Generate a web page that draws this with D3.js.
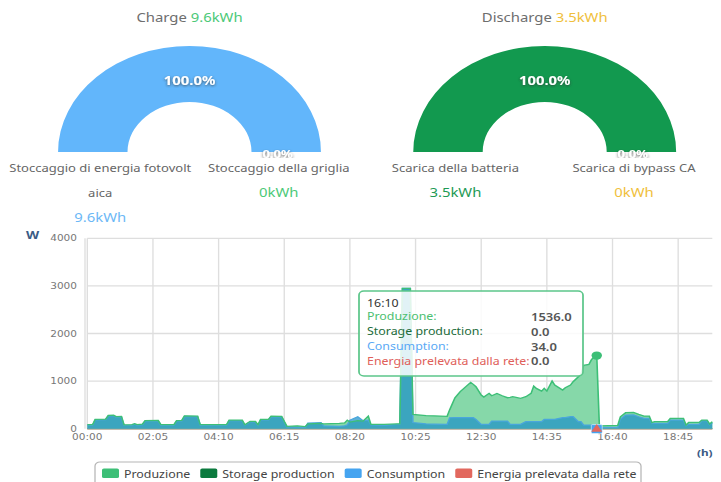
<!DOCTYPE html>
<html>
<head>
<meta charset="utf-8">
<title>Charge / Discharge</title>
<script src="https://cdn.jsdelivr.net/npm/d3@7"></script>
<style>
  body { margin: 0; background: #fff; }
  svg { display: block; }
  text { font-family: "Noto Sans", sans-serif; }
  .axis text { font-family: "DejaVu Sans", sans-serif; }
</style>
</head>
<body>
<div id="chart"></div>
<script>
// ---- donut data ----
var chargeTotal = "9.6kWh";
var chargeNames = ["Stoccaggio di energia fotovoltaica", "Stoccaggio della griglia"];
var chargeValues = [9.6, 0];
var chargeLabels = ["9.6kWh", "0kWh"];

var dischargeTotal = "3.5kWh";
var dischargeNames = ["Scarica della batteria", "Scarica di bypass CA"];
var dischargeValues = [3.5, 0];
var dischargeLabels = ["3.5kWh", "0kWh"];

// ---- line chart data (W) ----
var times = ["00:00","00:10","00:15","00:35","00:40","00:50","00:55","01:05","01:10","01:25",
  "01:30","01:35","01:45","01:50","02:15","02:20","02:45","02:50","03:00","03:05",
  "03:30","03:35","04:25","04:30","04:55","05:00","05:10","05:20","05:25","05:30",
  "05:45","05:50","06:10","06:20","06:40","06:55","07:00","07:25","07:30","08:00",
  "08:10","08:15","08:20","08:35","08:45","08:55","09:00","09:25","09:50","09:55",
  "10:00","10:15","10:20","10:45","11:00","11:25","11:30","11:40","11:50","12:10",
  "12:15","12:20","12:30","12:35","12:45","12:50","13:00","13:10","13:20","13:25",
  "13:30","13:45","13:55","14:05","14:10","14:15","14:25","14:30","14:35","14:45",
  "14:50","15:05","15:10","15:20","15:25","15:35","15:40","15:45","15:55","16:00",
  "16:05","16:10","16:15","16:50","16:55","17:05","17:20","17:30","17:40","17:50",
  "17:55","18:00","18:25","18:30","18:55","19:00","19:05","19:25","19:30","19:40",
  "19:45","19:50"];
var produzione = [85,85,195,200,280,285,255,260,80,85,
  105,85,95,170,175,85,85,170,175,270,
  265,85,85,180,180,85,155,155,85,195,
  195,265,260,50,60,45,100,110,100,110,
  120,180,140,170,160,265,90,90,100,100,
  2950,2950,300,275,270,260,400,650,780,973,
  931,882,707,665,742,693,742,693,651,660,
  672,637,672,742,896,847,791,847,791,1001,
  917,812,861,917,987,1092,1140,1330,1350,1450,
  1510,1536,60,70,250,336,340,300,266,266,
  126,147,147,217,217,77,133,133,182,182,
  98,147];
var consumption = [75,75,185,190,270,272,245,250,70,75,
  95,75,85,160,165,75,75,160,165,260,
  255,75,75,170,170,75,145,145,75,185,
  185,255,250,40,35,30,120,126,60,50,
  60,80,180,250,170,180,80,70,90,90,
  2950,2950,130,100,95,90,230,231,231,231,
  231,196,91,91,91,161,161,161,161,91,
  91,91,147,147,147,147,147,196,196,196,
  196,231,231,252,252,147,147,77,77,77,
  60,34,28,28,200,287,290,250,217,217,
  110,112,112,182,182,60,91,91,168,168,
  80,120];
var storageTimes = ["00:00", "19:50"];
var storage = [0, 0];
var gridTimes = ["00:00", "19:50"];
var grid = [0, 0];

var xTickLabels = ["00:00","02:05","04:10","06:15","08:20","10:25","12:30","14:35","16:40","18:45"];
var yTicks = [0, 1000, 2000, 3000, 4000];
var tooltipTime = "16:10";

var seriesNames = ["Produzione", "Storage production", "Consumption", "Energia prelevata dalla rete"];
var seriesColors = ["#3dbf77", "#0b7a3e", "#45a4f0", "#e2685e"];

// the picture is stretched sideways, so draw in a narrower space and stretch it back
var SX = 1.24;
var W = 721, H = 482, VW = W / SX;
function X(px) { return px / SX; }

var svg = d3.select("#chart").append("svg")
  .attr("width", W).attr("height", H)
  .attr("viewBox", "0 0 " + VW + " " + H)
  .attr("preserveAspectRatio", "none");

var defs = svg.append("defs");
defs.append("filter").attr("id", "shadow")
  .attr("x", "-20%").attr("y", "-40%").attr("width", "140%").attr("height", "180%")
  .append("feDropShadow")
  .attr("dx", 0).attr("dy", 1).attr("stdDeviation", 1.2)
  .attr("flood-color", "#333").attr("flood-opacity", 0.7);

function toMin(s) { var p = s.split(":"); return +p[0] * 60 + +p[1]; }

///______________________________ DONUTS ______________________________

function drawDonut(cx, title, total, totalColor, names, values, labels, sliceColors, labelColors) {
  var cy = 152;
  var g = svg.append("g").attr("transform", "translate(" + X(cx) + "," + cy + ")");

  var t = svg.append("text")
    .attr("x", X(cx)).attr("y", 17.5)
    .attr("text-anchor", "middle").attr("dominant-baseline", "central")
    .style("font-size", "12px");
  t.append("tspan").attr("fill", "#6e6e6e").text(title + " ");
  t.append("tspan").attr("fill", totalColor).text(total);

  var pie = d3.pie().sort(null).startAngle(-Math.PI / 2).endAngle(Math.PI / 2);
  var arcs = pie(values);
  var arc = d3.arc().innerRadius(50).outerRadius(106);
  var labelArc = d3.arc().innerRadius(71).outerRadius(71);

  g.selectAll("path").data(arcs).enter().append("path")
    .attr("d", arc)
    .attr("fill", function(d, i) { return sliceColors[i]; });

  var sum = d3.sum(values);
  var clipId = "clip" + Math.round(cx);
  defs.append("clipPath").attr("id", clipId)
    .append("rect").attr("x", -200).attr("y", -200).attr("width", 400).attr("height", 204);

  g.selectAll(".pct").data(arcs).enter().append("text")
    .attr("class", "pct")
    .attr("transform", function(d) { var c = labelArc.centroid(d); return "translate(" + c[0] + "," + (c[1] + (d.index ? 2 : 0)) + ")"; })
    .attr("text-anchor", "middle").attr("dominant-baseline", "central")
    .attr("clip-path", function(d, i) { return i > 0 ? "url(#" + clipId + ")" : null; })
    .attr("filter", "url(#shadow)")
    .attr("fill", "#fff")
    .style("font-size", function(d, i) { return i == 0 ? "12px" : "10.5px"; })
    .style("font-weight", "bold")
    .text(function(d) { return (d.value / sum * 100).toFixed(1) + "%"; });

  // labels under the half rings
  var offs = [-72, 72];
  names.forEach(function(name, i) {
    var lines = [];
    for (var k = 0; k < name.length; k += 30) lines.push(name.slice(k, k + 30));
    var lx = X(cx) + offs[i];
    lines.forEach(function(line, j) {
      svg.append("text")
        .attr("x", lx).attr("y", 168 + j * 25)
        .attr("text-anchor", "middle").attr("dominant-baseline", "central")
        .attr("fill", "#666").style("font-size", "10.5px")
        .text(line);
    });
    svg.append("text")
      .attr("x", lx).attr("y", 168 + lines.length * 25)
      .attr("text-anchor", "middle").attr("dominant-baseline", "central")
      .attr("fill", labelColors[i]).style("font-size", "12px")
      .text(labels[i]);
  });
}

drawDonut(189.5, "Charge", chargeTotal, "#4cc978", chargeNames, chargeValues, chargeLabels,
  ["#62b6fb", "#4cc978"], ["#6cb8f6", "#4cc978"]);
drawDonut(544.7, "Discharge", dischargeTotal, "#f0c03c", dischargeNames, dischargeValues, dischargeLabels,
  ["#12994f", "#f0c03c"], ["#1e9a55", "#f0c03c"]);

///______________________________ LINE CHART ______________________________

var x = d3.scaleLinear().domain([0, toMin("19:50")]).range([X(87.3), X(712.3)]);
var y = d3.scaleLinear().domain([0, 4000]).range([428.7, 238.3]);

var chart = svg.append("g");

// grid
chart.selectAll(".hgrid").data(yTicks).enter().append("line")
  .attr("x1", x.range()[0]).attr("x2", x.range()[1])
  .attr("y1", function(d) { return y(d); }).attr("y2", function(d) { return y(d); })
  .attr("stroke", "#dedede").attr("stroke-width", 1.3);
chart.selectAll(".vgrid").data(xTickLabels).enter().append("line")
  .attr("x1", function(d) { return x(toMin(d)); }).attr("x2", function(d) { return x(toMin(d)); })
  .attr("y1", y(4000)).attr("y2", y(0))
  .attr("stroke", "#dedede").attr("stroke-width", 1.1);
chart.append("line")
  .attr("x1", X(85)).attr("x2", X(85)).attr("y1", y(4000)).attr("y2", y(0))
  .attr("stroke", "#dcdcdc").attr("stroke-width", 1);

// axes labels
var yAxis = chart.append("g").attr("class", "axis");
yAxis.selectAll("text").data(yTicks).enter().append("text")
  .attr("x", X(77)).attr("y", function(d) { return y(d); })
  .attr("text-anchor", "end").attr("dominant-baseline", "central")
  .attr("fill", "#777").style("font-size", "8.5px")
  .text(function(d) { return d; });
var xAxis = chart.append("g").attr("class", "axis");
xAxis.selectAll("text").data(xTickLabels).enter().append("text")
  .attr("x", function(d) { return x(toMin(d)); }).attr("y", 437)
  .attr("text-anchor", "middle").attr("dominant-baseline", "central")
  .attr("fill", "#777").style("font-size", "8.5px")
  .text(function(d) { return d; });

chart.append("text").attr("class", "axis")
  .attr("x", X(32.5)).attr("y", 235).attr("text-anchor", "middle").attr("dominant-baseline", "central")
  .attr("fill", "#3b5b85").style("font-size", "11px").style("font-weight", "bold").text("W");
chart.append("text").attr("class", "axis")
  .attr("x", X(697)).attr("y", 452).attr("dominant-baseline", "central")
  .attr("fill", "#3b5b85").style("font-size", "9.5px").style("font-weight", "bold").text("(h)");

// series: zero series first, then areas, then the lines on top
function pts(ts, vals) { return ts.map(function(t, i) { return [toMin(t), vals[i]]; }); }
var area = d3.area().x(function(d) { return x(d[0]); }).y0(y(0)).y1(function(d) { return y(d[1]); });
var line = d3.line().x(function(d) { return x(d[0]); }).y(function(d) { return y(d[1]); });

[[storageTimes, storage, 1], [gridTimes, grid, 3]].forEach(function(s) {
  chart.append("path").datum(pts(s[0], s[1]))
    .attr("fill", "none").attr("stroke", seriesColors[s[2]]).attr("stroke-width", 1)
    .attr("d", line);
});
chart.append("path").datum(pts(times, produzione))
  .attr("fill", "#86d8a9").attr("d", area);
chart.append("path").datum(pts(times, consumption))
  .attr("fill", "rgb(30,145,200)").attr("fill-opacity", 0.72).attr("d", area);
chart.append("path").datum(pts(times, consumption))
  .attr("fill", "none").attr("stroke", "#4aa6dc").attr("stroke-width", 1.2).attr("d", line);
chart.append("path").datum(pts(times, produzione))
  .attr("fill", "none").attr("stroke", seriesColors[0]).attr("stroke-width", 1.3).attr("d", line);

// hovered point markers
var hi = times.indexOf(tooltipTime);
var hx = x(toMin(tooltipTime));
chart.append("rect")
  .attr("x", hx - 4.4).attr("y", y(consumption[hi]) - 2.5).attr("width", 8.8).attr("height", 9)
  .attr("rx", 1).attr("fill", "#45a4f0").attr("stroke", "#fff").attr("stroke-width", 0.5);
chart.append("path")
  .attr("d", d3.symbol().type(d3.symbolTriangle).size(34)())
  .attr("transform", "translate(" + hx + "," + (y(grid[0]) + 0.5) + ")")
  .attr("fill", seriesColors[3]);
chart.append("ellipse")
  .attr("cx", hx).attr("cy", y(produzione[hi]))
  .attr("rx", 4.2).attr("ry", 4.2)
  .attr("fill", seriesColors[0]);

// tooltip
var tip = chart.append("g").attr("transform", "translate(" + X(359) + ",291)");
tip.append("rect")
  .attr("width", X(583) - X(359)).attr("height", 85).attr("rx", 4)
  .attr("fill", "rgba(255,255,255,0.85)").attr("stroke", "#5cc68a").attr("stroke-width", 1.4);
tip.append("text")
  .attr("x", X(367) - X(359)).attr("y", 12).attr("dominant-baseline", "central")
  .attr("fill", "#333").style("font-size", "10px").text(tooltipTime);
var tipColors = ["#4cc070", "#1b6b3a", "#5aa9f5", "#e0605a"];
var tipValues = [produzione[hi], storage[0], consumption[hi], grid[0]];
seriesNames.forEach(function(name, i) {
  tip.append("text")
    .attr("x", X(367) - X(359)).attr("y", 25.5 + i * 14.8).attr("dominant-baseline", "central")
    .attr("fill", tipColors[i]).style("font-size", "10px").text(name + ":");
  tip.append("text")
    .attr("x", X(531) - X(359)).attr("y", 25.5 + i * 14.8).attr("dominant-baseline", "central")
    .attr("fill", "#555").style("font-size", "10.5px").style("font-weight", "600")
    .text(tipValues[i].toFixed(1));
});

// legend
var leg = svg.append("g");
leg.append("rect")
  .attr("x", X(95)).attr("y", 462).attr("width", X(641) - X(95)).attr("height", 30).attr("rx", 4)
  .attr("fill", "none").attr("stroke", "#b5b5b5");
var lx = X(102);
seriesNames.forEach(function(name, i) {
  leg.append("rect").attr("x", lx).attr("y", 468.5).attr("width", X(17)).attr("height", 9.5).attr("rx", 1.5)
    .attr("fill", seriesColors[i]);
  var t = leg.append("text").attr("x", lx + X(22)).attr("y", 474)
    .attr("dominant-baseline", "central").attr("fill", "#444").style("font-size", "10px")
    .text(name);
  lx += X(22) + t.node().getComputedTextLength() + X(10);
});
</script>
</body>
</html>
